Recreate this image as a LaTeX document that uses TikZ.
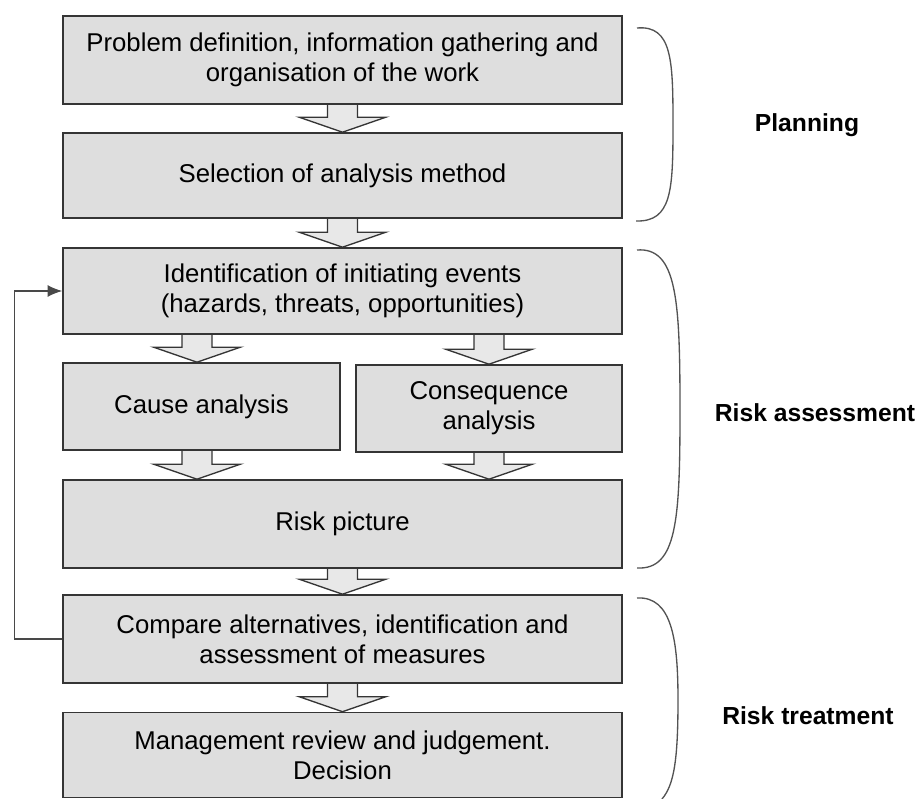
\documentclass[tikz,border=0pt]{standalone}
\usepackage{fontspec}
\setmainfont{Liberation Sans}
\usetikzlibrary{calc,backgrounds,arrows.meta}
\definecolor{boxfill}{HTML}{DEDEDE}
\definecolor{edge}{HTML}{353535}
% hollow block arrow from point #1 (top) down to point #2 (tip)
\newcommand\blockarrow[2]{%
  \filldraw[blk] let \p1=(#1), \p2=(#2) in
    (\x1-11.25pt,\y1) -- (\x1-11.25pt,\y2+11.25pt) -- (\x1-32.5pt,\y2+11.25pt)
    -- (\x1,\y2) -- (\x1+32.5pt,\y2+11.25pt) -- (\x1+11.25pt,\y2+11.25pt)
    -- (\x1+11.25pt,\y1);}
\begin{document}
\begin{tikzpicture}[x=0.75pt,y=-0.75pt,
  box/.style={draw=edge, line width=1.2pt, fill=boxfill, inner sep=0pt,
    align=center, font=\fontsize{19.3}{22.5}\selectfont},
  blk/.style={draw=edge, line width=1pt, fill=boxfill!70!white},
  grp/.style={font=\bfseries\fontsize{18.5}{21}\selectfont},
  brace/.style={draw=edge!85, line width=1pt},
  fb/.style={draw=edge!90, line width=1pt, -{Latex[length=11pt,width=9pt]}},
  ]
\useasboundingbox (0,0) rectangle (922,799);

% process boxes
\node[box, minimum width=419.25pt, minimum height=66pt] (b1) at (342.5,60)
  {Problem definition, information gathering and\\organisation of the work};
\node[box, minimum width=419.25pt, minimum height=63.75pt] (b2) at (342.5,175.5)
  {Selection of analysis method};
\node[box, minimum width=419.25pt, minimum height=64.5pt] (b3) at (342.5,291)
  {Identification of initiating events\\(hazards, threats, opportunities)};
\node[box, minimum width=207.75pt, minimum height=65.25pt] (cause) at (201.5,406.5)
  {Cause analysis};
\node[box, minimum width=199.5pt, minimum height=65.25pt] (cons) at (489,408.5)
  {Consequence\\analysis};
\node[box, minimum width=419.25pt, minimum height=66pt] (risk) at (342.5,524)
  {Risk picture};
\node[box, minimum width=419.25pt, minimum height=66pt] (cmp) at (342.5,639)
  {Compare alternatives, identification and\\assessment of measures};
\node[box, minimum width=419.25pt, minimum height=63.75pt] (mgmt) at (342.5,755)
  {Management review and judgement.\\Decision};

% block arrows between the boxes
\coordinate (ca) at ($(cause.north)+(-4.5,0)$);
\coordinate (ra) at ($(cause.south)+(-4.5,0)$);
\begin{scope}[on background layer]
  \blockarrow{b1.south}{b2.north}
  \blockarrow{b2.south}{b3.north}
  \blockarrow{ca |- b3.south}{ca}
  \blockarrow{cons.north |- b3.south}{cons.north}
  \blockarrow{ra}{ra |- risk.north}
  \blockarrow{cons.south}{cons.south |- risk.north}
  \blockarrow{risk.south}{cmp.north}
  \blockarrow{cmp.south}{mgmt.north}
\end{scope}

% feedback loop
\draw[fb] (cmp.west) -- ++(-48,0) |- (b3.west);

% group brackets
\draw[brace] (637,28) .. controls (672,25) and (673,60) .. (673,124)
  .. controls (673,190) and (672,222) .. (636,221);
\draw[brace] (637,250) .. controls (677,247) and (680,300) .. (680,410)
  .. controls (680,520) and (677,570) .. (637,568);
\draw[brace] (637,598) .. controls (672,596) and (678,640) .. (678,700)
  .. controls (678,760) and (674,785) .. (662,799);

% group labels
\node[grp] (lplan) at (807,125) {Planning};
\node[grp] (lassess) at (815,413) {Risk assessment};
\node[grp] (ltreat) at (808,716) {Risk treatment};
\end{tikzpicture}
\end{document}
